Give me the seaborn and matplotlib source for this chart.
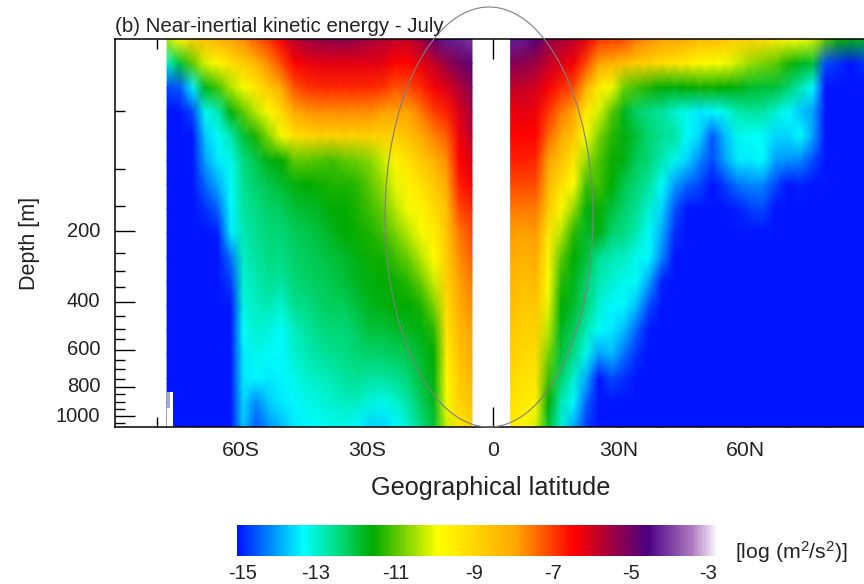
import seaborn as sns
import matplotlib.pyplot as plt
import numpy as np
import pandas as pd
from matplotlib.colors import LinearSegmentedColormap
from matplotlib.patches import Ellipse, Rectangle
from matplotlib.transforms import Affine2D

# depth [m] of each model row, rows are evenly spaced on the page
depths = [0, 17, 33, 51, 71, 90, 117, 155, 204, 261, 330, 413, 503, 621, 745, 905, 1075]

south_lats = np.linspace(-77.6, -5, 25)
north_lats = np.linspace(4.2, 91.2, 30)

# log10 kinetic energy, one profile per latitude
south_vals = [
    [-10.5, -13.0, -14.6, -15.3, -15.3, -15.3, -15.3, -15.3, -15.3, -15.3, -15.3, -15.3, -15.3, -15.3, -15.3, -15.3, -15.3],
    [-9.8, -12.0, -14.5, -15.0, -15.2, -15.2, -15.2, -15.2, -15.2, -15.2, -15.2, -15.2, -15.2, -15.2, -15.2, -15.2, -15.2],
    [-9.0, -11.0, -13.5, -14.6, -15.0, -15.2, -15.2, -15.2, -15.2, -15.2, -15.2, -15.2, -15.2, -15.2, -15.2, -15.2, -15.2],
    [-8.6, -10.2, -11.8, -13.2, -13.7, -14.0, -14.4, -14.8, -15.0, -15.2, -15.2, -15.2, -15.2, -15.2, -15.2, -15.2, -15.2],
    [-8.3, -9.8, -11.2, -12.8, -13.3, -13.5, -13.9, -14.4, -14.9, -15.2, -15.2, -15.2, -15.2, -15.2, -15.2, -15.2, -15.2],
    [-8.0, -9.3, -10.5, -11.7, -12.8, -13.2, -13.3, -13.4, -13.5, -14.3, -14.7, -15.0, -15.0, -15.0, -15.0, -15.0, -15.0],
    [-7.8, -8.9, -10.0, -11.0, -12.0, -12.5, -12.6, -12.7, -12.8, -12.9, -13.0, -13.1, -13.3, -13.5, -13.5, -13.6, -13.7],
    [-7.4, -8.4, -9.4, -10.4, -11.4, -12.1, -12.3, -12.5, -12.6, -12.7, -12.8, -12.9, -13.0, -13.2, -13.4, -14.2, -14.5],
    [-7.0, -7.8, -8.8, -9.8, -10.7, -11.7, -12.1, -12.3, -12.4, -12.5, -12.6, -12.8, -13.1, -13.3, -13.5, -13.7, -14.1],
    [-6.5, -7.2, -8.1, -9.1, -10.0, -11.6, -11.9, -12.2, -12.4, -12.5, -12.7, -13.0, -13.3, -13.4, -13.4, -13.5, -13.8],
    [-5.9, -6.6, -7.3, -8.2, -9.3, -11.0, -11.7, -12.0, -12.2, -12.3, -12.4, -12.6, -12.9, -13.0, -13.2, -13.4, -13.5],
    [-5.6, -6.4, -7.0, -7.9, -9.1, -11.0, -11.6, -11.9, -12.1, -12.2, -12.3, -12.5, -12.7, -12.8, -13.0, -13.2, -13.4],
    [-5.5, -6.3, -6.9, -7.8, -9.0, -11.1, -11.5, -11.8, -12.0, -12.1, -12.2, -12.3, -12.5, -12.7, -12.9, -13.1, -13.3],
    [-5.4, -6.3, -6.9, -7.8, -9.0, -11.2, -11.4, -11.6, -11.8, -12.0, -12.1, -12.2, -12.4, -12.6, -12.8, -13.0, -13.2],
    [-5.4, -6.3, -6.9, -7.8, -9.0, -11.0, -11.4, -11.6, -11.6, -11.9, -12.0, -12.2, -12.4, -12.5, -12.7, -12.9, -13.2],
    [-5.5, -6.3, -6.9, -7.8, -9.0, -10.9, -11.3, -11.4, -11.5, -11.7, -11.8, -12.0, -12.2, -12.4, -12.6, -12.9, -13.4],
    [-5.7, -6.3, -6.9, -7.8, -9.0, -10.7, -11.0, -11.2, -11.4, -11.5, -11.7, -11.8, -12.0, -12.3, -12.7, -13.1, -13.6],
    [-5.8, -6.3, -7.0, -8.0, -9.0, -10.3, -10.6, -10.9, -11.2, -11.5, -11.6, -11.7, -12.0, -12.3, -12.7, -13.2, -13.6],
    [-6.0, -6.6, -7.3, -8.0, -8.9, -9.7, -10.1, -10.4, -10.8, -11.2, -11.5, -11.6, -11.9, -12.2, -12.6, -13.0, -13.4],
    [-6.0, -6.6, -7.2, -8.0, -8.6, -9.3, -9.7, -10.0, -10.4, -10.9, -11.3, -11.6, -11.8, -12.1, -12.4, -12.7, -13.0],
    [-5.6, -6.3, -6.9, -7.6, -8.2, -8.8, -9.3, -9.7, -10.0, -10.4, -10.9, -11.4, -11.7, -11.9, -12.0, -12.2, -12.5],
    [-5.0, -6.0, -6.5, -7.1, -7.7, -8.3, -8.8, -9.2, -9.6, -9.9, -10.3, -10.8, -11.3, -11.6, -11.7, -11.8, -12.0],
    [-4.5, -5.5, -6.2, -6.8, -7.4, -7.8, -8.2, -8.6, -8.8, -8.9, -9.0, -9.2, -9.4, -9.6, -9.8, -10.0, -10.3],
    [-4.4, -5.2, -5.8, -6.2, -6.4, -6.6, -6.8, -7.2, -7.6, -7.8, -8.0, -8.2, -8.4, -8.6, -8.8, -9.0, -9.4],
    [-4.2, -4.9, -5.3, -5.6, -5.9, -6.2, -6.5, -6.9, -7.2, -7.4, -7.6, -7.8, -8.0, -8.2, -8.4, -8.7, -9.0],
]

north_vals = [
    [-4.5, -5.3, -6.0, -6.4, -6.6, -6.8, -7.2, -7.6, -7.9, -8.1, -8.3, -8.5, -8.7, -8.9, -9.1, -9.3, -9.5],
    [-4.5, -5.4, -6.0, -6.3, -6.6, -6.8, -7.2, -7.6, -8.0, -8.3, -8.6, -8.8, -9.0, -9.1, -9.3, -9.5, -9.8],
    [-4.8, -5.6, -6.1, -6.4, -6.6, -6.9, -7.2, -7.6, -7.9, -8.1, -8.4, -8.7, -9.0, -9.2, -9.4, -9.7, -10.2],
    [-5.5, -6.0, -6.5, -7.0, -7.5, -8.0, -8.4, -8.8, -9.4, -9.7, -9.9, -10.1, -10.4, -10.8, -11.2, -11.6, -12.0],
    [-5.7, -6.2, -6.9, -7.6, -8.1, -8.6, -9.2, -9.8, -10.4, -11.0, -11.3, -11.6, -11.8, -12.0, -12.3, -12.8, -13.0],
    [-5.9, -6.5, -7.2, -8.0, -8.7, -9.4, -9.9, -10.6, -11.3, -11.6, -11.8, -11.9, -12.2, -12.5, -13.0, -13.4, -13.9],
    [-6.3, -7.2, -8.3, -9.5, -10.0, -10.6, -11.2, -11.7, -11.9, -12.0, -12.3, -12.4, -12.8, -13.2, -13.9, -14.4, -14.7],
    [-7.0, -8.0, -9.5, -10.2, -10.8, -11.1, -11.2, -11.5, -11.7, -12.6, -12.8, -13.0, -13.3, -14.0, -15.0, -15.5, -15.5],
    [-7.1, -8.3, -10.0, -11.0, -11.3, -11.5, -11.6, -12.0, -12.3, -12.8, -13.0, -13.4, -13.5, -13.8, -14.6, -15.0, -15.5],
    [-7.2, -8.6, -10.9, -11.8, -11.7, -11.7, -12.1, -12.3, -12.5, -12.9, -13.2, -13.4, -13.8, -14.3, -14.8, -15.3, -15.5],
    [-7.6, -8.9, -11.2, -12.3, -12.0, -12.2, -12.4, -12.6, -12.8, -13.2, -13.3, -13.8, -14.4, -14.8, -15.3, -15.5, -15.5],
    [-7.8, -9.0, -11.4, -12.5, -12.4, -12.4, -12.7, -13.0, -13.3, -13.4, -14.0, -14.6, -15.0, -15.4, -15.5, -15.5, -15.5],
    [-8.0, -9.2, -11.6, -12.7, -12.6, -12.8, -13.3, -13.6, -13.9, -14.2, -14.9, -15.3, -15.5, -15.5, -15.5, -15.5, -15.5],
    [-8.0, -9.4, -11.7, -13.0, -12.7, -13.2, -14.0, -14.5, -14.8, -15.2, -15.5, -15.5, -15.5, -15.5, -15.5, -15.5, -15.5],
    [-8.2, -9.6, -11.6, -13.2, -13.3, -13.6, -14.4, -15.2, -15.5, -15.5, -15.5, -15.5, -15.5, -15.5, -15.5, -15.5, -15.5],
    [-8.5, -9.8, -11.5, -13.5, -13.6, -14.2, -14.6, -15.3, -15.5, -15.5, -15.5, -15.5, -15.5, -15.5, -15.5, -15.5, -15.5],
    [-8.5, -10.0, -11.5, -13.4, -14.5, -14.6, -15.2, -15.3, -15.5, -15.5, -15.5, -15.5, -15.5, -15.5, -15.5, -15.5, -15.5],
    [-8.7, -10.0, -11.6, -13.2, -13.8, -14.0, -14.7, -15.3, -15.5, -15.5, -15.5, -15.5, -15.5, -15.5, -15.5, -15.5, -15.5],
    [-9.0, -10.3, -11.7, -12.8, -13.2, -13.5, -14.3, -14.9, -15.5, -15.5, -15.5, -15.5, -15.5, -15.5, -15.5, -15.5, -15.5],
    [-9.0, -10.6, -11.9, -12.7, -13.3, -13.5, -14.2, -14.7, -15.1, -15.5, -15.5, -15.5, -15.5, -15.5, -15.5, -15.5, -15.5],
    [-9.2, -10.8, -12.0, -12.7, -13.3, -13.3, -14.2, -14.6, -15.0, -15.5, -15.5, -15.5, -15.5, -15.5, -15.5, -15.5, -15.5],
    [-9.5, -11.0, -12.0, -13.0, -13.6, -14.0, -14.6, -15.0, -15.5, -15.5, -15.5, -15.5, -15.5, -15.5, -15.5, -15.5, -15.5],
    [-9.8, -11.4, -12.3, -13.3, -13.6, -14.1, -15.0, -15.3, -15.5, -15.5, -15.5, -15.5, -15.5, -15.5, -15.5, -15.5, -15.5],
    [-10.0, -11.8, -12.8, -13.7, -13.3, -14.2, -14.9, -15.3, -15.5, -15.5, -15.5, -15.5, -15.5, -15.5, -15.5, -15.5, -15.5],
    [-10.2, -12.0, -13.4, -14.0, -14.0, -14.6, -15.3, -15.5, -15.5, -15.5, -15.5, -15.5, -15.5, -15.5, -15.5, -15.5, -15.5],
    [-11.0, -14.6, -15.0, -15.2, -15.3, -15.5, -15.5, -15.5, -15.5, -15.5, -15.5, -15.5, -15.5, -15.5, -15.5, -15.5, -15.5],
    [-11.5, -14.8, -15.3, -15.5, -15.5, -15.5, -15.5, -15.5, -15.5, -15.5, -15.5, -15.5, -15.5, -15.5, -15.5, -15.5, -15.5],
    [-11.7, -15.0, -15.5, -15.5, -15.5, -15.5, -15.5, -15.5, -15.5, -15.5, -15.5, -15.5, -15.5, -15.5, -15.5, -15.5, -15.5],
    [-11.8, -14.8, -15.3, -15.5, -15.5, -15.5, -15.5, -15.5, -15.5, -15.5, -15.5, -15.5, -15.5, -15.5, -15.5, -15.5, -15.5],
    [-11.8, -14.8, -15.3, -15.5, -15.5, -15.5, -15.5, -15.5, -15.5, -15.5, -15.5, -15.5, -15.5, -15.5, -15.5, -15.5, -15.5],
]

lat_major = [-60, -30, 0, 30, 60]
lat_labels = ['60S', '30S', '0', '30N', '60N']
lat_minor = [-80, -70, -50, -40, -20, -10, 10, 20, 40, 50, 70, 80]
depth_major = [200, 400, 600, 800, 1000]
depth_minor = [50, 100, 150, 250, 300, 350, 450, 500, 550, 650, 700, 750, 850, 900, 950, 1050]
cbar_labels = ['-15', '-13', '-11', '-9', '-7', '-5', '-3']
cbar_pos = [-14.87, -13.02, -11.02, -9.06, -7.08, -5.13, -3.2]

sns.set_theme(style='ticks')
plt.rcParams['font.family'] = ['Liberation Sans', 'DejaVu Sans']
plt.rcParams['mathtext.default'] = 'regular'

# colour scale as in the bar under the plot
anchors = [(-15, '#0014ff'), (-13.35, '#00ffff'), (-12.5, '#00dc82'), (-11.6, '#00aa00'),
           (-9.95, '#ffff00'), (-8.0, '#ffa500'), (-6.55, '#ff0000'), (-5.5, '#960046'),
           (-4.7, '#4b0082'), (-3.6, '#aa78be'), (-3, '#f5f0fa')]
cmap = LinearSegmentedColormap.from_list('nike', [((v + 15) / 12, c) for v, c in anchors])

south = pd.DataFrame(south_vals, index=south_lats, columns=depths).T
north = pd.DataFrame(north_vals, index=north_lats, columns=depths).T

fig = plt.figure(figsize=(8.64, 5.84), dpi=100)
W, H = 864, 584
ax = fig.add_axes([115 / W, 1 - 426.7 / H, 756 / W, 387.4 / H])
cax = fig.add_axes([237 / W, 1 - 556 / H, 479 / W, 31 / H])

# the two halves are drawn apart because of the gap at the equator
to_south = Affine2D().scale(south_lats[1] - south_lats[0], 1).translate(south_lats[0], 0) + ax.transData
to_north = Affine2D().scale(north_lats[1] - north_lats[0], 1).translate(north_lats[0], 0) + ax.transData
sns.heatmap(south, ax=ax, cmap=cmap, vmin=-15, vmax=-3, cbar=True, cbar_ax=cax,
            cbar_kws={'orientation': 'horizontal'}, shading='gouraud', transform=to_south)
sns.heatmap(north, ax=ax, cmap=cmap, vmin=-15, vmax=-3, cbar=False,
            shading='gouraud', transform=to_north)

ax.set_xlim(-90, 90)
ax.set_ylim(len(depths) - 1, 0)

# no data notch in the deep Weddell corner
notch_top = np.interp(835, depths, np.arange(len(depths)))
notch_mid = np.interp(945, depths, np.arange(len(depths)))
ax.add_patch(Rectangle((-77.7, notch_top), 1.4, len(depths) - 1 - notch_top, facecolor='white', edgecolor='none'))
ax.add_patch(Rectangle((-77.6, notch_top), 0.7, notch_mid - notch_top, facecolor='#a4aacb', edgecolor='none'))

ink = '#222222'
rows = np.arange(len(depths))
ax.set_xticks(lat_major)
ax.set_xticklabels(lat_labels, rotation=0, fontsize=15.3, color=ink)
ax.set_xticks(lat_minor, minor=True)
ax.set_yticks(np.interp(depth_major, depths, rows))
ax.set_yticklabels([str(d) for d in depth_major], rotation=0, fontsize=14.5, color=ink)
ax.set_yticks(np.interp(depth_minor, depths, rows), minor=True)
ax.tick_params(which='major', direction='in', length=14.4, width=1, top=True, right=True, color='black')
ax.tick_params(which='minor', direction='in', length=7.2, width=1, top=True, right=True, color='black')
ax.tick_params(axis='x', which='major', pad=10)
ax.tick_params(axis='y', which='major', pad=10.5)
for side in ax.spines.values():
    side.set_visible(True)
    side.set_linewidth(1.1)
    side.set_color('black')

ax.set_xlabel('Geographical latitude', fontsize=18.2, color=ink)
ax.xaxis.set_label_coords(0.4967, -0.128)
ax.set_ylabel('Depth [m]', fontsize=15.5, color=ink)
ax.yaxis.set_label_coords(-0.099, 0.474)
fig.text(115 / W, 1 - 27 / H, '(b) Near-inertial kinetic energy - July', fontsize=14.8,
         color=ink, ha='left', va='center')

cax.set_xticks(cbar_pos)
cax.set_xticklabels(cbar_labels, fontsize=14.5, color=ink)
cax.tick_params(length=0, pad=6)
fig.text(735 / W, 1 - 552 / H, '[log (m$^2$/s$^2$)]', fontsize=15.3, color=ink, ha='left', va='center')

# hand drawn ellipse around the tropics
fig.add_artist(Ellipse((489 / W, 1 - 217 / H), 208 / W, 420 / H, fill=False,
                       edgecolor='#808080', linewidth=0.8, transform=fig.transFigure))

plt.savefig('out.png', dpi=100)
